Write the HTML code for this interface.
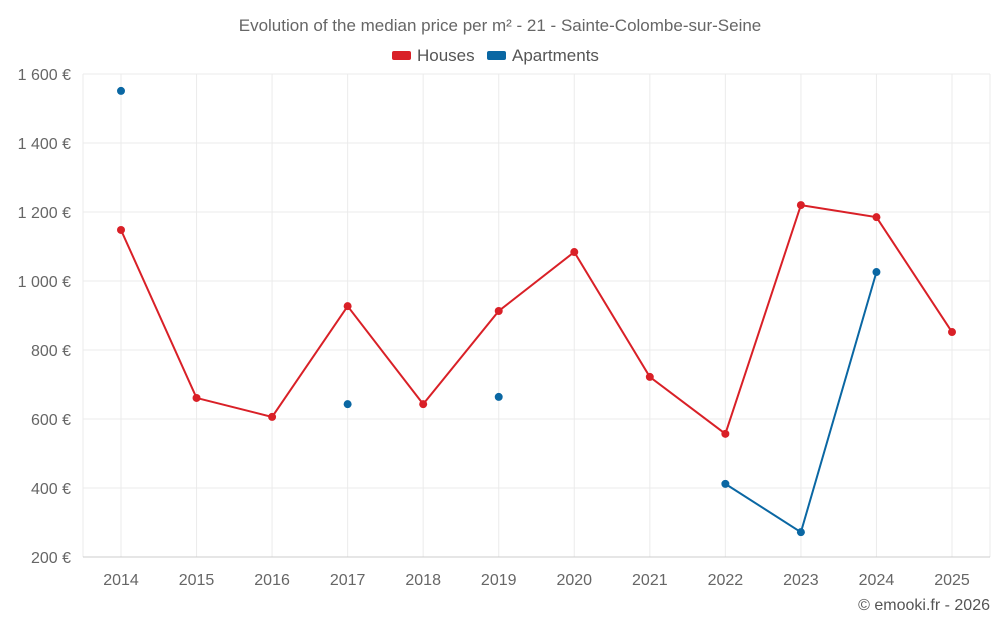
<!DOCTYPE html>
<html><head><meta charset="utf-8"><style>
body{margin:0;background:#fff;font-family:"Liberation Sans",sans-serif;}
svg text{font-family:"Liberation Sans",sans-serif;}
</style></head><body>
<svg id="chart" width="1000" height="625"></svg>
<script>
const years=[2014,2015,2016,2017,2018,2019,2020,2021,2022,2023,2024,2025];
const houses=[1148,661,606,927,643,913,1084,722,557,1220,1185,852];
const apartments=[1551,null,null,643,null,664,null,null,412,272,1026,null];
const yTicks=[200,400,600,800,1000,1200,1400,1600];
const yTickLabels=["200 €","400 €","600 €","800 €","1 000 €","1 200 €","1 400 €","1 600 €"];
const NS="http://www.w3.org/2000/svg";
const svg=document.getElementById('chart');
const L=83,R=990,T=74,B=557;
const x=i=>121+i*(952-121)/(years.length-1);
const y=v=>B-(v-200)/(1600-200)*(B-T);
function mk(tag,attrs,parent){const e=document.createElementNS(NS,tag);for(const k in attrs)e.setAttribute(k,attrs[k]);(parent||svg).appendChild(e);return e;}
// grid
yTicks.forEach((t,i)=>{
 const g=mk('line',{x1:L,x2:R,y1:y(t),y2:y(t),stroke:'#ebebeb'});
 
 
 const tx=mk('text',{x:71,y:y(t)+6,'text-anchor':'end','font-size':16,fill:'#666'});
 tx.textContent=yTickLabels[i];
 
 
});
years.forEach((yr,i)=>{
 const g=mk('line',{x1:x(i),x2:x(i),y1:T,y2:B,stroke:'#ebebeb'});
 
 
 const tx=mk('text',{x:x(i),y:585,'text-anchor':'middle','font-size':16,fill:'#666'});
 tx.textContent=yr;
 
 
});
mk('line',{x1:L,x2:L,y1:T,y2:B,stroke:'#ebebeb'});
mk('line',{x1:R,x2:R,y1:T,y2:B,stroke:'#ebebeb'});
const ax=mk('line',{x1:L,x2:R,y1:B,y2:B,stroke:'#ccc'});


function series(vals,color,name){
 let seg=[];
 const segs=[];
 vals.forEach((v,i)=>{if(v==null){if(seg.length)segs.push(seg);seg=[];}else seg.push([x(i),y(v)]);});
 if(seg.length)segs.push(seg);
 segs.forEach(s=>{if(s.length>1){const p=mk('polyline',{points:s.map(q=>q.join(',')).join(' '),fill:'none',stroke:color,'stroke-width':2});
  
  }});
 vals.forEach((v,i)=>{if(v==null)return;const c=mk('circle',{cx:x(i),cy:y(v),r:4,fill:color});
  
  });
}
series(houses,'#d92027','houses');
series(apartments,'#0a67a3','apartments');
const title=mk('text',{x:500,y:31,'text-anchor':'middle','font-size':17,fill:'#666'});
title.textContent='Evolution of the median price per m² - 21 - Sainte-Colombe-sur-Seine';


const lg=mk('g',{});


const r1=mk('rect',{x:392,y:51,width:19,height:9,rx:2,fill:'#d92027'},lg);
const t1=mk('text',{x:417,y:61,'font-size':17,fill:'#555'},lg);t1.textContent='Houses';


const r2=mk('rect',{x:487,y:51,width:19,height:9,rx:2,fill:'#0a67a3'},lg);
const t2=mk('text',{x:512,y:61,'font-size':17,fill:'#555'},lg);t2.textContent='Apartments';


const cr=mk('text',{x:990,y:610,'text-anchor':'end','font-size':16,fill:'#555'});
cr.textContent='© emooki.fr - 2026';


</script>
</body></html>
